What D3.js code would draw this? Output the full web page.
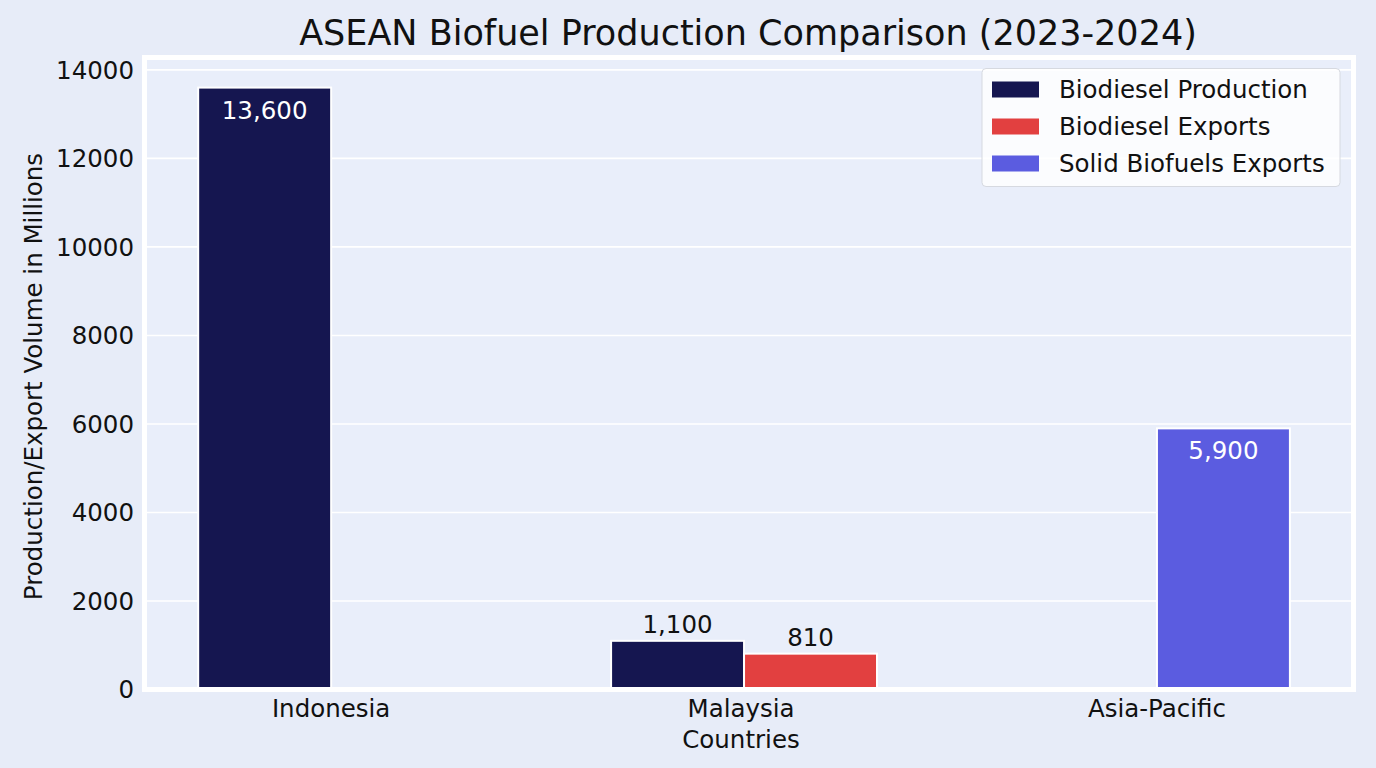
<!DOCTYPE html>
<html>
<head>
<meta charset="utf-8">
<script src="https://cdn.jsdelivr.net/npm/d3@7"></script>
<style>
  body { margin: 0; background: #e7ecf8; }
  text { font-family: "DejaVu Sans", sans-serif; }
</style>
</head>
<body>
<div id="chart"></div>
<script>
// data
const countries = ["Indonesia", "Malaysia", "Asia-Pacific"];
const biodieselProduction = [13600, 1100, null];
const biodieselExports = [null, 810, null];
const solidBiofuelsExports = [null, null, 5900];
const yTicks = [0, 2000, 4000, 6000, 8000, 10000, 12000, 14000];

const W = 1376, H = 768;
const plot = {left: 144.5, right: 1353.5, top: 57.5, bottom: 689.5};
const barW = 0.322;
const fs = "24.5px";

var svg = d3.select("#chart")
  .append("svg")
    .attr("width", W)
    .attr("height", H);

svg.append("rect")
  .attr("width", W).attr("height", H)
  .attr("fill", "#e7ecf8");

var x = d3.scaleLinear()
  .domain([-0.452, 2.476])
  .range([plot.left, plot.right]);

var y = d3.scaleLinear()
  .domain([0, 14280])
  .range([plot.bottom, plot.top]);

// plot background
svg.append("rect")
  .attr("x", plot.left).attr("y", plot.top)
  .attr("width", plot.right - plot.left).attr("height", plot.bottom - plot.top)
  .attr("fill", "#e9eefa");

// grid
svg.append("g")
  .selectAll("line")
  .data(yTicks.slice(1))
  .enter().append("line")
  .attr("x1", plot.left).attr("x2", plot.right)
  .attr("y1", d => y(d)).attr("y2", d => y(d))
  .attr("stroke", "#ffffff")
  .attr("stroke-width", 1.6);

// series, offset is in bar widths from the category centre
const series = [
  {name: "Biodiesel Production", values: biodieselProduction, color: "#151650", off: -1},
  {name: "Biodiesel Exports", values: biodieselExports, color: "#e24040", off: 0},
  {name: "Solid Biofuels Exports", values: solidBiofuelsExports, color: "#5b5ce0", off: 0}
];

series.forEach(function(s) {
  var pts = s.values.map((v, i) => ({i: i, v: v})).filter(d => d.v != null);
  svg.append("g")
    .selectAll("rect")
    .data(pts)
    .enter().append("rect")
    .attr("x", d => x(d.i + s.off * barW))
    .attr("y", d => y(d.v))
    .attr("width", x(barW) - x(0))
    .attr("height", d => y(0) - y(d.v))
    .attr("fill", s.color)
    .attr("stroke", "#ffffff")
    .attr("stroke-width", 2);

  svg.append("g")
    .selectAll("text")
    .data(pts)
    .enter().append("text")
    .attr("x", d => x(d.i + (s.off + 0.5) * barW))
    .attr("y", d => d.v > 3000 ? y(d.v) + 31 : y(d.v) - 8)
    .attr("text-anchor", "middle")
    .attr("fill", d => d.v > 3000 ? "#ffffff" : "#111111")
    .style("font-size", fs)
    .text(d => d3.format(",")(d.v));
});

// frame
svg.append("rect")
  .attr("x", plot.left).attr("y", plot.top)
  .attr("width", plot.right - plot.left).attr("height", plot.bottom - plot.top)
  .attr("fill", "none")
  .attr("stroke", "#ffffff")
  .attr("stroke-width", 5);

// y tick labels
svg.append("g")
  .selectAll("text")
  .data(yTicks)
  .enter().append("text")
  .attr("x", 134)
  .attr("y", d => y(d))
  .attr("dy", "0.36em")
  .attr("text-anchor", "end")
  .style("font-size", fs)
  .attr("fill", "#111")
  .text(d => d);

// x tick labels
svg.append("g")
  .selectAll("text")
  .data(countries)
  .enter().append("text")
  .attr("x", (d, i) => x(i) - (i == 1 ? 3 : 0))
  .attr("y", 717)
  .attr("text-anchor", "middle")
  .style("font-size", fs)
  .attr("fill", "#111")
  .text(d => d);

svg.append("text")
  .attr("x", 741)
  .attr("y", 748)
  .attr("text-anchor", "middle")
  .style("font-size", fs)
  .attr("fill", "#111")
  .text("Countries");

svg.append("text")
  .attr("transform", "translate(42," + ((plot.top + plot.bottom) / 2 + 3) + ") rotate(-90)")
  .attr("text-anchor", "middle")
  .style("font-size", fs)
  .attr("fill", "#111")
  .text("Production/Export Volume in Millions");

svg.append("text")
  .attr("x", 748)
  .attr("y", 45)
  .attr("text-anchor", "middle")
  .style("font-size", "35px")
  .attr("fill", "#111")
  .text("ASEAN Biofuel Production Comparison (2023-2024)");

// legend
var lg = svg.append("g").attr("transform", "translate(982,68.5)");
lg.append("rect")
  .attr("width", 358).attr("height", 118)
  .attr("rx", 4)
  .attr("fill", "#ffffff").attr("fill-opacity", 0.8)
  .attr("stroke", "#d6d9e0");
series.forEach(function(s, i) {
  lg.append("rect")
    .attr("x", 10).attr("y", 13 + i * 37)
    .attr("width", 47).attr("height", 16)
    .attr("fill", s.color);
  lg.append("text")
    .attr("x", 77).attr("y", 21 + i * 37)
    .attr("dy", "0.36em")
    .style("font-size", fs)
    .attr("fill", "#111")
    .text(s.name);
});
</script>
</body>
</html>
